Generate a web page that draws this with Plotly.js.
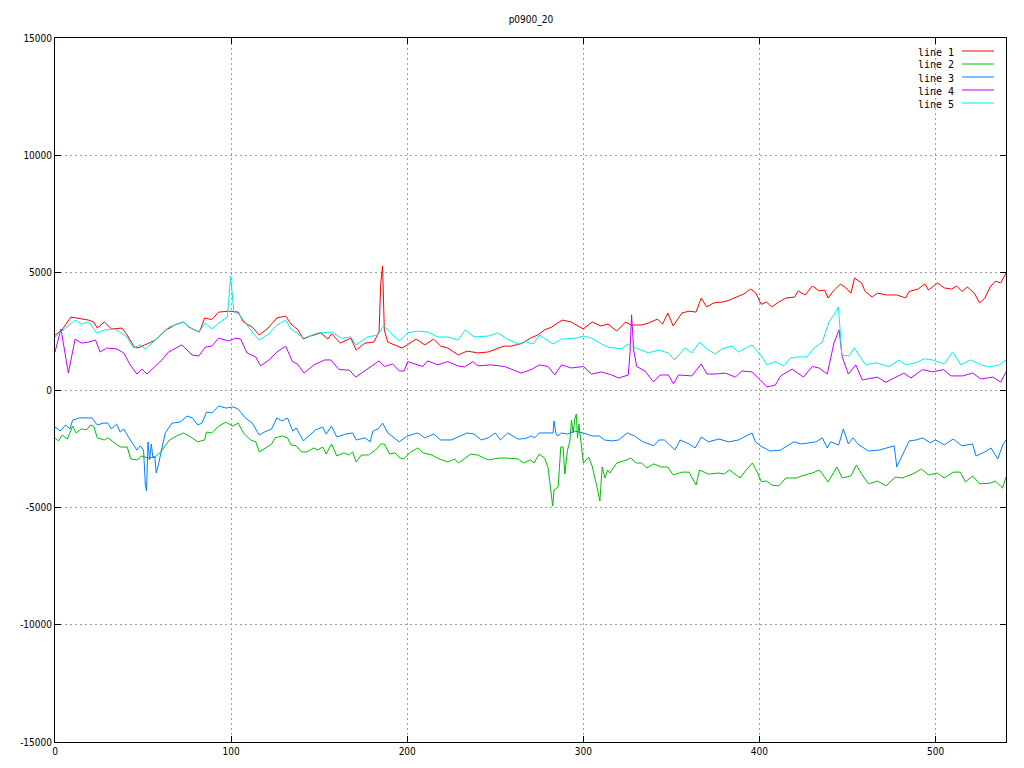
<!DOCTYPE html>
<html>
<head>
<meta charset="utf-8">
<script src="https://cdn.plot.ly/plotly-3.0.1.min.js"></script>
<style>html,body{margin:0;padding:0;background:#fff;}#chart{width:1024px;height:768px;}</style>
</head>
<body>
<div id="chart"></div>
<script>
const chartTitle = "p0900_20";
const seriesNames = ["line 1", "line 2", "line 3", "line 4", "line 5"];
const seriesColors = ["#ff0000", "#00c000", "#0080ff", "#c000ff", "#00eeee"];
const xTickVals = [0, 100, 200, 300, 400, 500];
const yTickVals = [-15000, -10000, -5000, 0, 5000, 10000, 15000];

const line1X = [0,4,9,15,19,22,24,28,32,38,41,45,47,51,57,63,68,73,76,82,85,89,93,99,104,107,112,116,121,126,131,134,138,141,145,151,155,157,162,168,171,176,181,184,185,186,187,189,193,197,200,205,210,215,219,223,229,234,240,246,252,255,259,265,270,274,278,282,288,293,300,305,310,314,319,324,327,333,337,342,345,348,351,356,360,364,367,370,374,379,383,387,391,395,398,401,404,407,411,415,420,422,426,430,434,437,439,442,446,449,452,454,458,460,464,467,472,478,483,485,490,494,496,501,505,509,512,515,518,522,525,528,531,534,537,540];
const line1Y = [2340,2560,3110,3020,2980,2900,2640,2900,2600,2640,2340,1830,1790,1920,2130,2560,2770,2900,2680,2470,3070,3000,3320,3360,3320,2900,2680,2340,2640,3070,3150,2810,2560,2170,2300,2430,2170,2400,2000,2210,1700,2000,2040,2470,4560,5280,2560,2040,1920,1790,1920,2170,1920,2170,1870,1790,1490,1660,1580,1620,1790,1870,1870,1980,2210,2340,2560,2680,2980,2900,2600,2900,2730,2810,2510,2900,2770,2770,2850,3020,2810,3280,2730,3280,3360,3320,3920,3540,3710,3750,3830,3960,4090,4300,4130,3650,3750,3540,3750,3920,3960,4220,4050,4430,4220,4260,3920,4220,4520,4350,4130,4770,4560,4200,3960,4130,4050,4050,3920,4200,4300,4520,4260,4560,4350,4300,4430,4200,4390,4130,3710,3920,4390,4640,4560,4980];

const line2X = [0,2,4,7,10,12,15,18,20,22,24,28,30,37,41,43,47,49,53,57,60,65,69,73,77,81,85,86,89,93,97,101,104,107,111,114,116,120,123,125,129,132,134,137,140,143,147,149,152,154,157,160,164,167,169,171,174,178,182,185,187,190,193,196,198,202,206,209,214,217,223,227,229,233,236,240,246,252,257,263,266,270,272,275,278,280,281.5,282.6,283.4,285.7,287.2,288.5,289.5,291,292.3,293.3,294.2,295.2,296,296.7,297.5,298.6,300,303,305,307.5,309.4,310.7,312.3,313.8,315,319,324,327,330,333,336,340,344,348,351,356,360,364,366,371,377,380,383,386,389,392,396,399,401,404,407,411,415,421,424,430,434,439,444,447,452,455,458,462,467,472,477,481,487,492,496,501,505,510,514,517,521,525,531,534,538,540];
const line2Y = [-2040,-2170,-1920,-2090,-1540,-1830,-1660,-1700,-1490,-1540,-2040,-2130,-2040,-2430,-2430,-2940,-2980,-2810,-2900,-2850,-2640,-2130,-1960,-1830,-2000,-2210,-2130,-1790,-1830,-1540,-1370,-1540,-1410,-1830,-2130,-2210,-2640,-2430,-2300,-2040,-1960,-2040,-2340,-2380,-2640,-2640,-2470,-2560,-2430,-2730,-2300,-2810,-2680,-2770,-2640,-3070,-2770,-2770,-2560,-2300,-2300,-2730,-2680,-2900,-2940,-2640,-2470,-2680,-2770,-2900,-3070,-2940,-3110,-2900,-2730,-2770,-2980,-2900,-2900,-2940,-3110,-2980,-3110,-2730,-2900,-3320,-4260,-4940,-4260,-4130,-2430,-2430,-3580,-2560,-2210,-1280,-1830,-1230,-1030,-2040,-1450,-2210,-3110,-2860,-3240,-4050,-4730,-3280,-3750,-3410,-3540,-3110,-3000,-2900,-3110,-3110,-3320,-3150,-3280,-3280,-3620,-3500,-3500,-4050,-3410,-3580,-3540,-3580,-3410,-3580,-3750,-3450,-3110,-3540,-3900,-3880,-4050,-4090,-3750,-3750,-3660,-3540,-3410,-3920,-3280,-3750,-3660,-3200,-3580,-4000,-3880,-4090,-3710,-3750,-3580,-3370,-3620,-3540,-3750,-3500,-3500,-3920,-3660,-4000,-3970,-3880,-4180,-3710];

const line3X = [0,3,6,8.5,10,14,21,24,27.5,30,32,35,37,39,42,44.6,46.5,48.4,50.3,51.3,52,52.8,53.7,54.7,55.6,56.6,57.5,58.8,60.4,62.6,66.4,71,75,78,81,83.5,86,89,93,97,101,104,108,112,116,119,123,126,129,132,135,137,141,145,148,152,154,157,160,165,169,171,176,179,180.5,183.5,186,189,193,195.5,200,206,210,215,219,225,229,234,238,242,246,250,253,257,263,267,270.5,272.4,275,282.8,283.4,284.4,285.3,287.6,291,295,300,305,309,312,316,320,325,329,334,340,343,346,352,355,360,363.5,367,371,377,382.5,388,395.8,397.7,401,406,412,419.5,424,432,435.7,438.5,440.4,445,447.6,450.5,453,456.5,462,468,476.5,478,481,485,489,492.6,497,500,505,510,515,521,523,528,531.5,535.3,538.2,540];
const line3Y = [-1580,-1750,-1490,-1660,-1280,-1190,-1190,-1490,-1410,-1410,-1660,-1450,-1790,-1660,-2040,-2340,-2560,-2380,-2560,-4050,-4300,-2210,-2980,-2300,-2900,-2810,-3540,-3150,-2600,-1830,-1410,-1370,-1110,-1190,-1490,-1410,-940,-980,-680,-770,-720,-810,-1190,-1410,-1920,-1790,-1660,-1190,-1320,-1190,-1750,-1620,-2170,-1920,-1700,-1580,-1880,-1540,-2000,-1880,-1830,-2130,-2040,-2210,-1750,-1660,-1410,-1830,-2040,-2210,-1960,-1830,-2040,-1880,-2130,-2130,-2000,-1830,-1880,-2130,-2040,-1830,-2130,-1830,-2090,-2070,-1960,-2040,-1830,-1830,-1320,-1830,-1960,-1830,-1880,-1750,-1830,-1960,-1960,-2130,-2170,-2130,-1830,-1960,-2210,-2380,-2130,-2130,-2560,-2130,-2300,-2470,-2000,-2210,-2090,-2210,-2130,-1830,-2210,-2400,-2600,-2560,-2210,-2300,-2210,-2040,-2470,-2210,-2340,-1660,-2300,-2040,-2340,-2600,-2560,-2380,-3280,-2810,-2170,-2130,-2040,-2250,-2130,-2340,-2090,-2380,-2300,-2810,-2640,-2470,-2940,-2340,-2130];

const line4X = [0,3.4,7.6,11.4,15,19,23,25.6,29.4,35,39,42.7,46.5,49.4,52.2,56,60.7,64.5,68.3,72,77.8,81.6,85.4,89,93,98.7,102.5,105.4,109,114,116.7,121.5,126,131,134.8,137.6,141.4,147,153,156.6,161.3,167,170.8,179.3,184,187,191.7,195.5,198.3,200.2,205,208.8,211.6,217.3,223,228.7,232.5,237.3,240,247.7,255.3,264.8,270.5,275,280,283.8,287.6,293.3,300,304.7,310.4,316,320,325.5,326.5,327.4,328.6,330.3,335,339.8,343.6,348.3,351.2,354,361.6,366.9,370.2,375,380.6,386.3,390,395.8,400.5,404.3,409,412,418.6,425,430,433.8,438.5,442.3,445.2,447,450.5,454.7,458.4,463,467,471.7,477.4,482,486,492.6,498.3,504.5,508.8,515.4,521,525.8,532.5,537,540];
const line4Y = [1620,2600,720,2170,2000,2040,2130,1620,1790,1750,1580,1070,680,890,680,940,1280,1620,1790,1920,1490,1450,1830,1870,2210,2090,2210,2170,1580,1410,1030,1280,1620,1870,1210,1110,720,1070,1280,1280,870,850,550,1000,1240,1000,1110,810,810,1210,1110,1000,1240,1070,1210,1030,980,1210,1030,1070,1000,720,870,1070,1000,640,1070,940,1000,680,770,640,510,640,1580,3200,1700,1000,810,340,640,640,260,640,600,1110,680,680,720,550,810,770,430,130,210,600,890,550,1000,940,680,2000,2560,1410,680,1070,430,510,550,330,550,720,510,870,770,870,600,600,720,470,550,340,770];

const line5X = [0,5.7,11.4,15.2,19,23.7,28.5,34,40.8,44.6,48.4,51.3,57,64.5,73,77,81.6,85.4,89,93,97.8,98.7,99.7,100.6,101.6,104.4,108,112,115.8,121.5,126,131,134,141.4,149,157.5,162.3,168,170.8,177.5,183.2,186.6,190.7,195.5,200.2,206,211.6,217.3,223,228.7,233,238,246,251.5,257,263,267,271.4,275.2,282.8,287.6,296,300,304.7,310.4,314,321.7,325.5,330,337,342.6,348.3,351.7,357.8,361.6,366,371,375,378.7,384.4,388,395.8,401.1,404.3,409,413.8,417.6,422.4,427,431,435.7,439.5,442.3,444.8,445.7,446.7,451,453.7,456.6,460.3,466,473.6,479.3,483,488.8,493.6,498.3,505,509.7,514.4,520,525.8,530.6,536.3,540];
const line5Y = [2260,2640,2980,2810,2900,2430,2560,2600,2260,1790,1920,1750,2130,2680,2900,2640,2470,2850,2600,2850,3110,3830,4860,4130,3320,3240,2850,2470,2130,2390,2770,2980,2600,2210,2430,2470,2210,2260,1920,2260,2340,2730,2430,2090,2430,2510,2470,2260,2260,2130,2560,2260,2300,2430,2170,1960,2060,1960,2340,1960,2170,2210,2300,2210,1960,1830,1750,1960,1790,1580,1700,1580,1280,1790,1580,2040,1700,1540,1750,1870,1620,1920,1450,1070,1210,1030,1360,1410,1410,1790,2040,2900,3200,3540,2680,1490,1450,1790,1490,1070,1160,1000,1280,1070,1160,1330,1280,1110,1620,1070,1280,1070,980,1070,1280];

const xs = [line1X, line2X, line3X, line4X, line5X];
const ys = [line1Y, line2Y, line3Y, line4Y, line5Y];

const traces = seriesNames.map((name, i) => ({
  x: xs[i], y: ys[i], name: name, type: 'scatter', mode: 'lines',
  line: {color: seriesColors[i], width: 1, shape: 'linear'},
  showlegend: false, hoverinfo: 'skip'
}));

// plot box geometry (pixels) used to place the custom gnuplot-style key
const W = 1024, H = 768, ML = 55, MR = 18, MT = 38, MB = 26;
const PW = W - ML - MR, PH = H - MT - MB;
const keyTextRight = (956 - ML) / PW;
const keyLineX0 = (962 - ML) / PW, keyLineX1 = (994 - ML) / PW;
const keyRow0 = (H - MB - 52) / PH, keyStep = 13 / PH;

const annotations = seriesNames.map((name, i) => ({
  xref: 'paper', yref: 'paper', x: keyTextRight, y: keyRow0 - i * keyStep,
  xanchor: 'right', yanchor: 'middle', text: name, showarrow: false,
  font: {family: 'DejaVu Sans Mono, monospace', size: 10, color: '#000'}
}));
const shapes = seriesNames.map((name, i) => ({
  type: 'line', xref: 'paper', yref: 'paper',
  x0: keyLineX0, x1: keyLineX1, y0: keyRow0 - i * keyStep + 1 / PH, y1: keyRow0 - i * keyStep + 1 / PH,
  line: {color: seriesColors[i], width: 1}
}));

const axisFont = {family: 'DejaVu Sans Condensed, Liberation Sans Narrow, Liberation Sans, sans-serif', size: 10, color: '#000'};
const layout = {
  width: W, height: H,
  margin: {l: ML, r: MR, t: MT, b: MB, pad: 0},
  paper_bgcolor: '#fff', plot_bgcolor: '#fff',
  title: {text: chartTitle, x: 0.5185, xanchor: 'center', y: 1 - 19 / H, yanchor: 'middle',
          font: {family: 'DejaVu Sans Condensed, Liberation Sans, sans-serif', size: 10, color: '#000'}},
  showlegend: false,
  xaxis: {range: [0, 540], tickvals: xTickVals, ticktext: xTickVals.map(String),
          ticks: 'inside', ticklen: 6, tickcolor: '#000', tickwidth: 1,
          showline: true, linecolor: '#000', linewidth: 1, mirror: 'allticks',
          showgrid: true, gridcolor: '#a0a0a0', griddash: '2px,3px', gridwidth: 1,
          zeroline: false, tickfont: axisFont, fixedrange: true},
  yaxis: {range: [-15000, 15000], tickvals: yTickVals, ticktext: yTickVals.map(String),
          ticks: 'inside', ticklen: 6, tickcolor: '#000', tickwidth: 1,
          showline: true, linecolor: '#000', linewidth: 1, mirror: 'allticks',
          showgrid: true, gridcolor: '#a0a0a0', griddash: '2px,3px', gridwidth: 1,
          zeroline: false, tickfont: axisFont, fixedrange: true},
  annotations: annotations,
  shapes: shapes
};

Plotly.newPlot('chart', traces, layout, {displayModeBar: false, staticPlot: true});
</script>
</body>
</html>
